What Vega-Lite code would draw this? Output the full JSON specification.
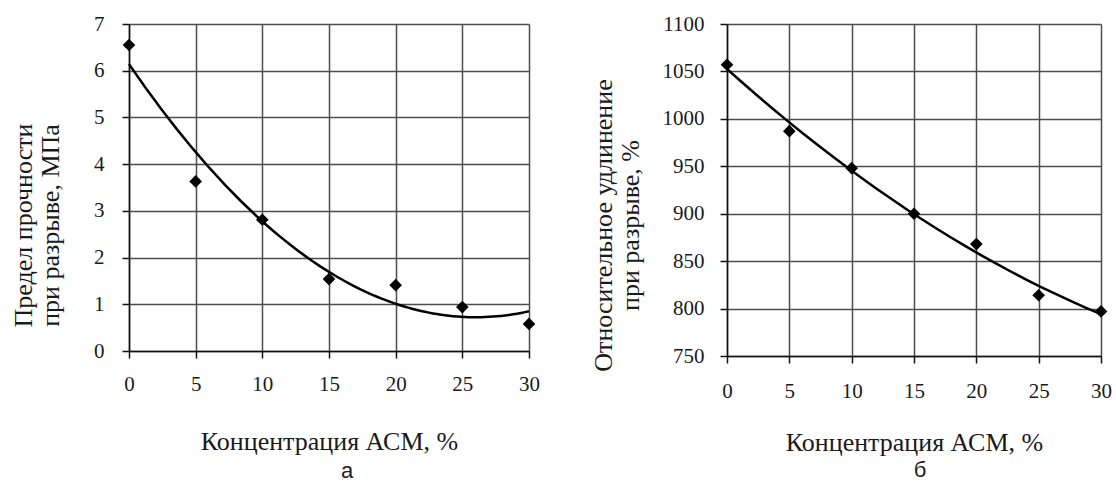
{
  "$schema": "https://vega.github.io/schema/vega-lite/v6.json",
  "padding": {"left": 10, "top": 13, "right": 0, "bottom": 0},
  "background": "white",
  "datasets": {
    "a": [
      {"conc": 0, "strength": 6.55},
      {"conc": 5, "strength": 3.63},
      {"conc": 10, "strength": 2.81},
      {"conc": 15, "strength": 1.54},
      {"conc": 20, "strength": 1.41},
      {"conc": 25, "strength": 0.94},
      {"conc": 30, "strength": 0.58}
    ],
    "b": [
      {"conc": 0, "elong": 1057},
      {"conc": 5, "elong": 987},
      {"conc": 10, "elong": 948},
      {"conc": 15, "elong": 900},
      {"conc": 20, "elong": 868},
      {"conc": 25, "elong": 814},
      {"conc": 30, "elong": 797}
    ]
  },
  "config": {
    "view": {"stroke": null},
    "axis": {
      "labelFont": "Liberation Serif",
      "labelFontSize": 21,
      "labelColor": "#1a1a1a",
      "labelFlush": false,
      "labelOverlap": false,
      "titleFont": "Liberation Serif",
      "titleFontSize": 26,
      "titleFontWeight": "normal",
      "titleColor": "#1a1a1a",
      "grid": true,
      "gridColor": "#4d4d4d",
      "gridWidth": 1.5,
      "gridOpacity": 1,
      "domainColor": "#111111",
      "domainWidth": 1.5,
      "tickColor": "#111111",
      "tickWidth": 1.5,
      "tickSize": 7
    },
    "title": {"font": "Liberation Sans", "fontSize": 22, "fontWeight": "normal", "color": "#222222"}
  },
  "spacing": 49,
  "hconcat": [
    {
      "width": 400,
      "height": 327,
      "title": {"text": "а", "orient": "bottom", "anchor": "middle", "dx": 18, "offset": 7},
      "data": {"name": "a"},
      "encoding": {
        "x": {
          "field": "conc", "type": "quantitative",
          "scale": {"domain": [0, 30], "nice": false},
          "axis": {"values": [0, 5, 10, 15, 20, 25, 30], "format": "d", "title": "Концентрация АСМ, %", "labelPadding": 15, "titlePadding": 34}
        },
        "y": {
          "field": "strength", "type": "quantitative",
          "scale": {"domain": [0, 7], "nice": false},
          "axis": {
            "values": [0, 1, 2, 3, 4, 5, 6, 7],
            "format": "d",
            "title": ["Предел прочности", "при разрыве, МПа"],
            "labelPadding": 18,
            "titleAngle": -90,
            "titleX": -106,
            "titleY": 201,
            "titleBaseline": "middle",
            "titleAlign": "center",
            "titleLineHeight": 27
          }
        }
      },
      "layer": [
        {
          "transform": [{"regression": "strength", "on": "conc", "method": "poly", "order": 2}],
          "mark": {"type": "line", "color": "black", "strokeWidth": 2.5}
        },
        {
          "mark": {"type": "point", "shape": "diamond", "filled": true, "color": "black", "size": 160, "opacity": 1}
        }
      ]
    },
    {
      "width": 374,
      "height": 332,
      "title": {"text": "б", "orient": "bottom", "anchor": "middle", "dx": 6, "offset": 5},
      "data": {"name": "b"},
      "encoding": {
        "x": {
          "field": "conc", "type": "quantitative",
          "scale": {"domain": [0, 30], "nice": false},
          "axis": {"values": [0, 5, 10, 15, 20, 25, 30], "format": "d", "title": "Концентрация АСМ, %", "labelPadding": 17, "titlePadding": 28}
        },
        "y": {
          "field": "elong", "type": "quantitative",
          "scale": {"domain": [750, 1100], "nice": false, "zero": false},
          "axis": {
            "values": [750, 800, 850, 900, 950, 1000, 1050, 1100],
            "format": "d",
            "title": ["Относительное удлинение", "при разрыве, %"],
            "labelPadding": 16,
            "titleAngle": -90,
            "titleX": -124,
            "titleY": 201,
            "titleBaseline": "middle",
            "titleAlign": "center",
            "titleLineHeight": 27
          }
        }
      },
      "layer": [
        {
          "transform": [{"regression": "elong", "on": "conc", "method": "poly", "order": 2}],
          "mark": {"type": "line", "color": "black", "strokeWidth": 2.5}
        },
        {
          "mark": {"type": "point", "shape": "diamond", "filled": true, "color": "black", "size": 160, "opacity": 1}
        }
      ]
    }
  ]
}
